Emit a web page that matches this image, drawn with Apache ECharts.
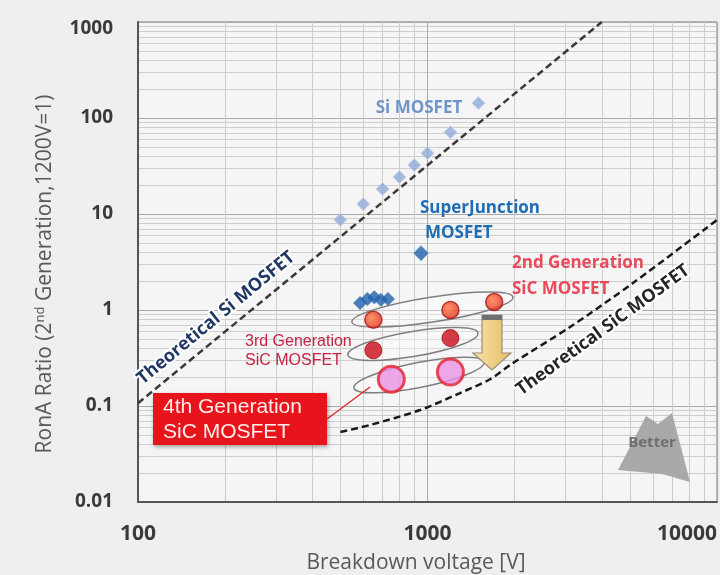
<!DOCTYPE html>
<html><head><meta charset="utf-8">
<script src="https://cdn.jsdelivr.net/npm/echarts@6/dist/echarts.min.js"></script>
<style>html,body{margin:0;padding:0;background:#efefef}#c{width:720px;height:575px}</style>
</head><body><div id="c"></div>
<script>
// ---- data ----
const xTickLabels = ['100', '1000', '10000'];
const yTickLabels = ['0.01', '0.1', '1', '10', '100', '1000'];
const siMosfet = [[500, 8.7], [600, 12.7], [700, 18.2], [800, 24.3], [900, 32.4], [1000, 43], [1200, 71], [1500, 143]];
const superJunction = [[950, 3.9]];
const sjCluster = [[585, 1.18], [620, 1.3], [655, 1.36], [690, 1.28], [730, 1.3]];
const gen2 = [[650, 0.79], [1200, 1.0], [1700, 1.21]];
const gen3 = [[650, 0.38], [1200, 0.51]];
const gen4 = [[750, 0.19], [1200, 0.226]];
const theoSi = [[100, 0.107], [4000, 1000]];
const theoSiC = [[500, 0.0536], [633, 0.0634], [942, 0.0908], [1295, 0.1365], [1644, 0.19], [1974, 0.28], [3107, 0.665], [5125, 1.91], [10000, 8.66]];
// group outlines: [x left, y left, x right, y right]
const groupOutlines = [[548, 0.75, 1974, 1.365], [531, 0.34, 1494, 0.575], [557, 0.154, 1567, 0.287]];
// improvement arrow: [x, y top, y tip]
const improveArrow = [[1670, 0.887, 0.237]];

const chart = echarts.init(document.getElementById('c'), null, {renderer: 'canvas'});
const FONT = 'Open Sans';
const fmt = v => (v >= 1 ? String(Math.round(v)) : String(+v.toPrecision(1)));

const T = (x, y, text, fill, font, extra) => Object.assign({
  type: 'text', x: x, y: y, z: 100,
  style: {text: text, fill: fill, font: font, align: 'left', verticalAlign: 'middle'}
}, extra || {});

const option = {
  backgroundColor: '#efefef',
  animation: false,
  grid: {left: 138, top: 22, right: 3, bottom: 73, show: true, backgroundColor: '#f5f5f5', borderColor: '#7a7a7a', borderWidth: 1},
  xAxis: {
    type: 'log', logBase: 10, min: 100, max: 10000,
    axisLine: {show: true, lineStyle: {color: '#555', width: 2}},
    axisTick: {show: false},
    axisLabel: {
      color: '#3a3a3a', fontFamily: FONT, fontWeight: 'bold', fontSize: 21, margin: 22,
      alignMaxLabel: 'right',
      formatter: v => xTickLabels.includes(fmt(v)) ? fmt(v) : ''
    },
    splitLine: {show: true, lineStyle: {color: '#a8a8a8', width: 1}},
    minorTick: {show: false, splitNumber: 9},
    minorSplitLine: {show: true, lineStyle: {color: '#cdcdcd', width: 1}}
  },
  yAxis: {
    type: 'log', logBase: 10, min: 0.01, max: 1000,
    axisLine: {show: true, lineStyle: {color: '#555', width: 2}},
    axisTick: {show: false},
    axisLabel: {
      color: '#3a3a3a', fontFamily: FONT, fontWeight: 'bold', fontSize: 19, margin: 25,
      formatter: v => yTickLabels.includes(fmt(v)) ? (fmt(v) === '1000' ? '{top|1000}' : fmt(v)) : '',
      rich: {top: {fontFamily: FONT, fontWeight: 'bold', fontSize: 19, color: '#3a3a3a', padding: [14, 0, 0, 0]}}
    },
    splitLine: {show: true, lineStyle: {color: '#a8a8a8', width: 1}},
    minorTick: {show: false, splitNumber: 9},
    minorSplitLine: {show: true, lineStyle: {color: '#cdcdcd', width: 1}}
  },
  series: [
    {
      type: 'custom', name: 'outlines', z: 2, silent: true,
      data: groupOutlines,
      renderItem: (params, api) => {
        const p1 = api.coord([api.value(0), api.value(1)]);
        const p2 = api.coord([api.value(2), api.value(3)]);
        const cx = (p1[0] + p2[0]) / 2, cy = (p1[1] + p2[1]) / 2;
        const a = Math.hypot(p2[0] - p1[0], p2[1] - p1[1]) / 2;
        const rot = Math.atan2(p1[1] - p2[1], p2[0] - p1[0]);
        return {
          type: 'ellipse', x: cx, y: cy, rotation: rot,
          shape: {cx: 0, cy: 0, rx: a, ry: 12.5},
          style: {fill: 'rgba(255,255,255,0.35)', stroke: '#7f7f7f', lineWidth: 1.5}
        };
      }
    },
    {
      type: 'line', name: 'Theoretical Si MOSFET', data: theoSi, showSymbol: false, z: 3, silent: true,
      lineStyle: {color: '#3a3a3a', width: 2.5, type: [7, 4]}
    },
    {
      type: 'line', name: 'Theoretical SiC MOSFET', data: theoSiC, showSymbol: false, z: 3, silent: true, smooth: 0.3,
      lineStyle: {color: '#1a1a1a', width: 2.5, type: [7, 4]}
    },
    {
      type: 'scatter', name: 'Si MOSFET', data: siMosfet, symbol: 'diamond', symbolSize: 13, z: 4,
      itemStyle: {color: '#8eaad8', borderColor: '#c3d2ec', borderWidth: 1}
    },
    {
      type: 'scatter', name: 'SuperJunction MOSFET', data: superJunction, symbol: 'diamond', symbolSize: 16, z: 4,
      itemStyle: {color: '#1f62ad', borderColor: '#d8e4f2', borderWidth: 1}
    },
    {
      type: 'scatter', name: 'SuperJunction cluster', data: sjCluster, symbol: 'diamond', symbolSize: 14, z: 4,
      itemStyle: {color: '#1f62ad'}
    },
    {
      type: 'scatter', name: '2nd Gen', data: gen2, symbol: 'circle', symbolSize: 17, z: 5,
      itemStyle: {
        color: new echarts.graphic.RadialGradient(0.4, 0.4, 0.7, [{offset: 0, color: '#ff7a45'}, {offset: 1, color: '#dc1f1a'}]),
        borderColor: '#a81010', borderWidth: 1.5
      }
    },
    {
      type: 'scatter', name: '3rd Gen', data: gen3, symbol: 'circle', symbolSize: 17, z: 5,
      itemStyle: {color: '#c80e18', borderColor: '#a80a14', borderWidth: 1}
    },
    {
      type: 'scatter', name: '4th Gen', data: gen4, symbol: 'circle', symbolSize: 26, z: 5,
      itemStyle: {color: '#ea92e4', borderColor: '#e4202c', borderWidth: 3}
    },
    {
      type: 'custom', name: 'improvement', z: 6, silent: true,
      data: improveArrow,
      renderItem: (params, api) => {
        const top = api.coord([api.value(0), api.value(1)]);
        const tip = api.coord([api.value(0), api.value(2)]);
        const cx = top[0], ty = top[1], by = tip[1];
        const hy = by - 17, sw = 10, hw = 19;
        return {
          type: 'group', children: [
            {
              type: 'polygon',
              shape: {points: [[cx - sw, ty], [cx + sw, ty], [cx + sw, hy], [cx + hw, hy], [cx, by], [cx - hw, hy], [cx - sw, hy]]},
              style: {
                fill: new echarts.graphic.LinearGradient(0, 0, 1, 0, [{offset: 0, color: '#f8e2a8'}, {offset: 1, color: '#e6bd64'}]),
                stroke: '#9c8f78', lineWidth: 1.2
              }
            },
            {type: 'rect', shape: {x: cx - sw, y: ty, width: 2 * sw, height: 5}, style: {fill: '#6f6f6f'}}
          ]
        };
      }
    }
  ],
  graphic: [
    T(419, 108, 'Si MOSFET', '#7096c8', 'bold 17px "Open Sans"', {style: {text: 'Si MOSFET', fill: '#7096c8', font: 'bold 17px "Open Sans"', align: 'center', verticalAlign: 'middle'}}),
    T(420, 208, 'SuperJunction', '#1f6db5', 'bold 17px "Open Sans"'),
    T(425, 233, 'MOSFET', '#1f6db5', 'bold 17px "Open Sans"'),
    T(512, 263, '2nd Generation', '#e84a5c', 'bold 17px "Open Sans"'),
    T(512, 289, 'SiC MOSFET', '#e84a5c', 'bold 17px "Open Sans"'),
    T(245, 342, '3rd Generation', '#c42344', '16px "Liberation Sans"'),
    T(245, 361, 'SiC MOSFET', '#c42344', '16px "Liberation Sans"'),
    {type: 'line', z: 100, shape: {x1: 327, y1: 419, x2: 370, y2: 387}, style: {stroke: '#e02b30', lineWidth: 1.5}},
    {type: 'rect', z: 100, shape: {x: 153, y: 393, width: 174, height: 52}, style: {fill: '#e8141c', shadowBlur: 4, shadowColor: 'rgba(0,0,0,0.35)', shadowOffsetX: 1, shadowOffsetY: 2}},
    T(163, 407, '4th Generation', '#ffecec', '21px "Liberation Sans"', {z: 101}),
    T(163, 432, 'SiC MOSFET', '#ffecec', '21px "Liberation Sans"', {z: 101}),
    {type: 'text', z: 100, x: 216, y: 318, rotation: 39.5 * Math.PI / 180, style: {text: 'Theoretical Si MOSFET', fill: '#203864', font: 'bold 18px "Open Sans"', align: 'center', verticalAlign: 'middle', stroke: '#ffffff', lineWidth: 4, strokeFirst: true}},
    {type: 'text', z: 100, x: 603, y: 330, rotation: 36 * Math.PI / 180, style: {text: 'Theoretical SiC MOSFET', fill: '#262626', font: 'bold 18px "Open Sans"', align: 'center', verticalAlign: 'middle', stroke: '#ffffff', lineWidth: 4, strokeFirst: true}},
    {type: 'polygon', z: 100, shape: {points: [[618, 470], [646, 416], [658, 424], [672, 413], [690, 482], [662, 474]]}, style: {fill: '#a9a9a9'}},
    {type: 'text', z: 101, x: 652, y: 443, style: {text: 'Better', fill: '#6e6e6e', font: 'bold 15px "Open Sans"', align: 'center', verticalAlign: 'middle'}},
    {type: 'text', z: 100, x: 416, y: 563, style: {text: 'Breakdown voltage [V]', fill: '#595959', font: '21px "Open Sans"', align: 'center', verticalAlign: 'middle'}},
    {type: 'text', z: 100, x: 45, y: 274, rotation: Math.PI / 2, style: {
      text: 'RonA Ratio (2{sup|nd} Generation,1200V=1)', fill: '#595959', font: '21px "Open Sans"', align: 'center', verticalAlign: 'middle',
      rich: {sup: {fontSize: 13, fontFamily: 'Open Sans', fill: '#595959', verticalAlign: 'top', padding: [0, 0, 10, 0]}}
    }}
  ]
};
chart.setOption(option);
</script></body></html>
